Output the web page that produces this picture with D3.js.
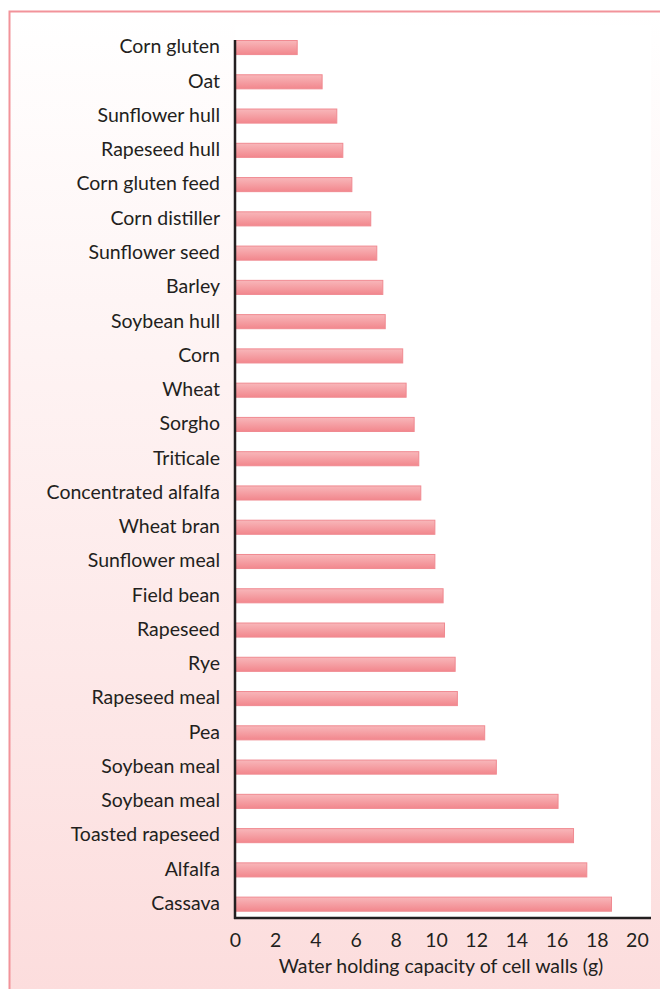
<!DOCTYPE html>
<html>
<head>
<meta charset="utf-8">
<script src="https://cdn.jsdelivr.net/npm/d3@7"></script>
<style>
  body { margin: 0; background: #ffffff; }
  svg { display: block; }
</style>
</head>
<body>
<div id="vis"></div>
<script>
// Frame
const FRAME_WIDTH = 660;
const FRAME_HEIGHT = 989;
const PLOT = { left: 235, right: 651, top: 40, bottom: 918 };

// Data
const FEEDS = ["Corn gluten", "Oat", "Sunflower hull", "Rapeseed hull", "Corn gluten feed",
    "Corn distiller", "Sunflower seed", "Barley", "Soybean hull", "Corn", "Wheat", "Sorgho",
    "Triticale", "Concentrated alfalfa", "Wheat bran", "Sunflower meal", "Field bean",
    "Rapeseed", "Rye", "Rapeseed meal", "Pea", "Soybean meal", "Soybean meal ",
    "Toasted rapeseed", "Alfalfa", "Cassava"];
const WATER = [3.12, 4.36, 5.09, 5.39, 5.84, 6.78, 7.08, 7.38, 7.5, 8.37, 8.54, 8.94,
    9.17, 9.27, 9.97, 9.97, 10.38, 10.45, 10.98, 11.09, 12.45, 13.03, 16.1,
    16.87, 17.53, 18.76];
const X_TICKS = [0, 2, 4, 6, 8, 10, 12, 14, 16, 18, 20];
const X_TITLE = "Water holding capacity of cell walls (g)";

const data = FEEDS.map((f, i) => ({ feed: f, value: WATER[i] }));

const FONT = "Lato, 'Open Sans', sans-serif";
const INK = "#231f20";

const svg = d3.select("#vis")
    .append("svg")
    .attr("width", FRAME_WIDTH)
    .attr("height", FRAME_HEIGHT);

const defs = svg.append("defs");

// background gradient of the panel
const bg = defs.append("linearGradient")
    .attr("id", "bg").attr("x1", 0).attr("y1", 0).attr("x2", 0).attr("y2", 1);
bg.append("stop").attr("offset", "0%").attr("stop-color", "#ffffff");
bg.append("stop").attr("offset", "100%").attr("stop-color", "#fcdcdc");

// bar gradient
const barGrad = defs.append("linearGradient")
    .attr("id", "barGrad").attr("x1", 0).attr("y1", 0).attr("x2", 0).attr("y2", 1);
barGrad.append("stop").attr("offset", "0%").attr("stop-color", "#f8b7ba");
barGrad.append("stop").attr("offset", "100%").attr("stop-color", "#f2878d");

// panel with pink border
svg.append("rect")
    .attr("x", 9.5).attr("y", 11.5)
    .attr("width", FRAME_WIDTH + 20).attr("height", FRAME_HEIGHT + 20)
    .attr("fill", "url(#bg)")
    .attr("stroke", "#f2939a")
    .attr("stroke-width", 2);

// white plot area
svg.append("rect")
    .attr("x", PLOT.left).attr("y", 25)
    .attr("width", PLOT.right - PLOT.left).attr("height", PLOT.bottom - 25)
    .attr("fill", "#ffffff");

// Scales
const X_SCALE = d3.scaleLinear()
    .domain([0, 20.7])
    .range([PLOT.left, PLOT.right]);

const Y_SCALE = d3.scaleBand()
    .domain(FEEDS)
    .range([PLOT.top, 911.7])
    .paddingInner(0.56)
    .paddingOuter(0);

// Bars
svg.selectAll(".bar")
    .data(data)
    .enter()
    .append("rect")
    .attr("class", "bar")
    .attr("x", X_SCALE(0) + 0.5)
    .attr("y", d => Y_SCALE(d.feed) + 0.5)
    .attr("width", d => X_SCALE(d.value) - X_SCALE(0) - 1)
    .attr("height", Y_SCALE.bandwidth() - 1)
    .attr("fill", "url(#barGrad)")
    .attr("stroke", "#f08a91")
    .attr("stroke-width", 1);

// Category labels
svg.append("g")
    .attr("transform", "translate(" + (PLOT.left - 15) + ",0)")
    .call(d3.axisLeft(Y_SCALE).tickSize(0).tickPadding(0).tickFormat(d => d.trim()))
    .call(g => g.select(".domain").remove())
    .call(g => g.selectAll("text")
        .attr("fill", INK)
        .attr("dy", "0.3em")
        .style("font-family", FONT)
        .style("font-size", "19.5px"));

// X axis
svg.append("g")
    .attr("transform", "translate(0," + PLOT.bottom + ")")
    .call(d3.axisBottom(X_SCALE).tickValues(X_TICKS).tickSize(0).tickPadding(15))
    .call(g => g.select(".domain")
        .attr("stroke", INK)
        .attr("stroke-width", 2.5)
        .attr("d", "M" + (PLOT.left - 1) + ",0H" + PLOT.right))
    .call(g => g.selectAll("text")
        .attr("fill", INK)
        .style("font-family", FONT)
        .style("font-size", "19.5px"));

// Y axis line
svg.append("line")
    .attr("x1", PLOT.left).attr("x2", PLOT.left)
    .attr("y1", PLOT.top).attr("y2", PLOT.bottom + 1)
    .attr("stroke", INK)
    .attr("stroke-width", 2.5);

// Axis title
svg.append("text")
    .attr("x", 441)
    .attr("y", 973)
    .attr("text-anchor", "middle")
    .attr("fill", INK)
    .style("font-family", FONT)
    .style("font-size", "19.5px")
    .text(X_TITLE);
</script>
</body>
</html>
